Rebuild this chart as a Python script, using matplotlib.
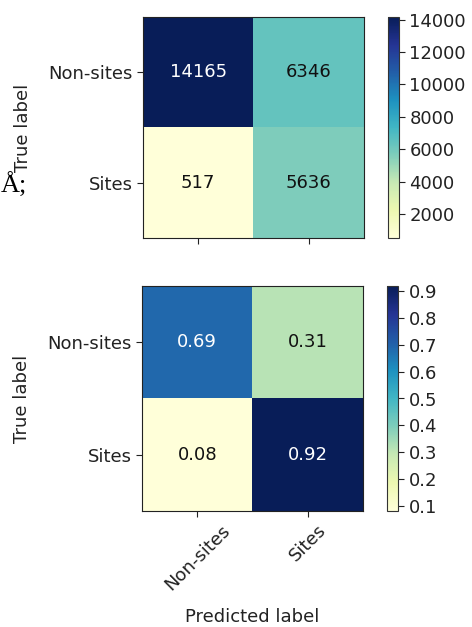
import numpy as np
import matplotlib
matplotlib.use("Agg")
import matplotlib.pyplot as plt

classes = ["Non-sites", "Sites"]
counts = np.array([[14165, 6346],
                   [517, 5636]])
normalized = np.array([[0.69, 0.31],
                       [0.08, 0.92]])
count_ticks = [2000, 4000, 6000, 8000, 10000, 12000, 14000]
norm_ticks = [0.1, 0.2, 0.3, 0.4, 0.5, 0.6, 0.7, 0.8, 0.9]

W, H = 472, 627
FS = 13
fig = plt.figure(figsize=(W / 100, H / 100), dpi=100)
plt.rcParams["font.size"] = FS


def box(x0, y0, x1, y1):
    # pixel box (top-left origin) -> figure fraction rect
    return [x0 / W, 1 - y1 / H, (x1 - x0) / W, (y1 - y0) / H]


def draw_matrix(ax, cax, mat, fmt, ticks, show_xlabels):
    im = ax.imshow(mat, cmap="YlGnBu", interpolation="nearest", aspect="auto")
    cb = fig.colorbar(im, cax=cax, ticks=ticks)
    cb.outline.set_edgecolor("#333333")
    cax.tick_params(labelsize=FS, colors="#222222", length=4)
    thresh = mat.max() / 2.0
    for i in range(mat.shape[0]):
        for j in range(mat.shape[1]):
            ax.text(j, i, format(mat[i, j], fmt), ha="center", va="center",
                    fontsize=FS,
                    color="white" if mat[i, j] > thresh else "#111111")
    ax.set_xticks(range(len(classes)))
    ax.set_yticks(range(len(classes)))
    ax.set_yticklabels(classes)
    if show_xlabels:
        ax.set_xticklabels(classes, rotation=45)
        ax.set_xlabel("Predicted label", color="#222222")
    else:
        ax.set_xticklabels([])
    ax.set_ylabel("True label", color="#222222")
    ax.tick_params(colors="#222222", labelsize=FS, length=4)
    for s in ax.spines.values():
        s.set_edgecolor("#222222")
    return im


ax1 = fig.add_axes(box(143, 17, 364, 238))
cax1 = fig.add_axes(box(388, 17, 399, 238))
draw_matrix(ax1, cax1, counts, "d", count_ticks, False)

ax2 = fig.add_axes(box(142, 286, 363, 511))
cax2 = fig.add_axes(box(387, 286, 398, 511))
draw_matrix(ax2, cax2, normalized, ".2f", norm_ticks, True)

ax1.yaxis.set_label_coords(-0.50, 0.5)
ax2.yaxis.set_label_coords(-0.50, 0.5)
ax2.xaxis.set_label_coords(0.5, -0.43)

fig.text(0.5 / W, 1 - 193 / H, "Å;", family="Liberation Serif", fontsize=19,
         color="black", ha="left", va="baseline")

fig.savefig("out.png", dpi=100)
